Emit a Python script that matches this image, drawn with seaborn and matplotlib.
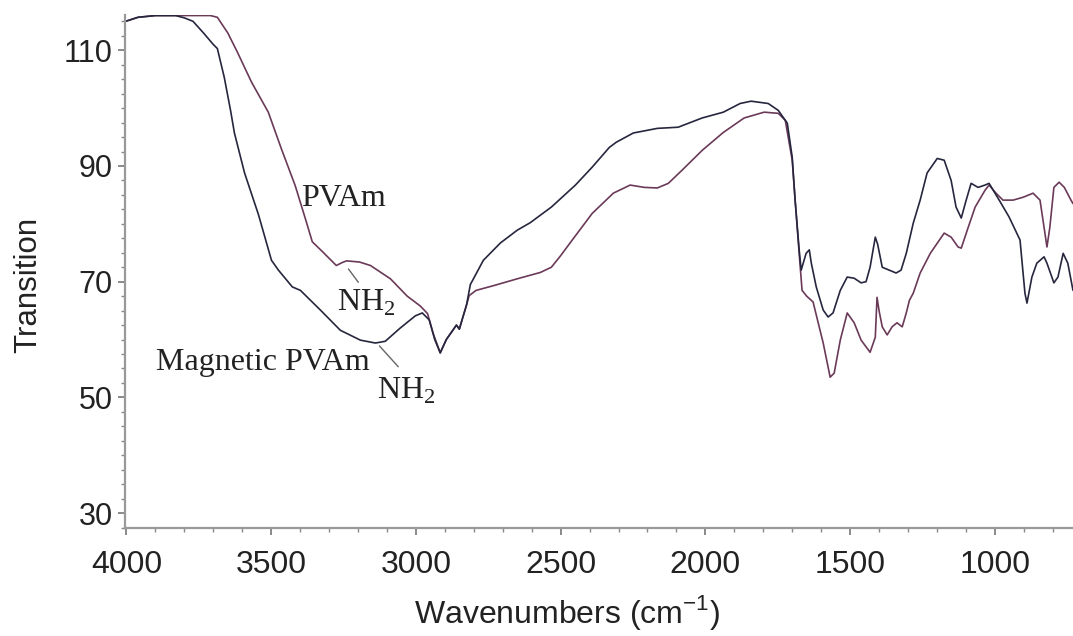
import numpy as np
import pandas as pd
import matplotlib
matplotlib.use('Agg')
import matplotlib.pyplot as plt
import seaborn as sns
from matplotlib.ticker import MultipleLocator

# Spectra (wavenumber in cm-1, transition in %)
wn_mag = [4003, 3960, 3900, 3830, 3800, 3770, 3734, 3700, 3686, 3662, 3640, 3627,
          3592, 3544, 3499, 3475, 3427, 3399, 3330, 3261, 3192, 3140, 3106, 3054,
          3002, 2978, 2954, 2935, 2916, 2895, 2874, 2860, 2850, 2840, 2825, 2812,
          2767, 2708, 2650, 2605, 2570, 2532, 2449, 2391, 2332, 2308, 2249, 2166,
          2094, 2011, 1938, 1880, 1842, 1783, 1748, 1717, 1700, 1690, 1676, 1669,
          1652, 1641, 1634, 1617, 1593, 1576, 1559, 1534, 1510, 1486, 1462, 1445,
          1431, 1413, 1405, 1389, 1365, 1341, 1324, 1306, 1282, 1258, 1234, 1199,
          1175, 1151, 1134, 1116, 1099, 1082, 1058, 1034, 1020, 985, 951, 913,
          896, 889, 872, 855, 830, 820, 796, 782, 764, 748, 730]
t_mag = [115.0, 115.7, 116.0, 116.0, 115.6, 115.0, 113.0, 111.0, 110.3, 105.3, 99.5, 95.7,
         88.8, 81.6, 73.7, 72.0, 69.1, 68.5, 65.1, 61.6, 59.9, 59.4, 59.7, 62.0,
         64.1, 64.6, 63.4, 60.0, 57.7, 60.0, 61.5, 62.5, 61.8, 63.5, 66.0, 69.5,
         73.7, 76.7, 78.9, 80.2, 81.5, 82.9, 86.7, 89.8, 93.2, 94.1, 95.7, 96.5,
         96.7, 98.3, 99.3, 100.8, 101.2, 100.8, 99.6, 97.4, 91.5, 84.1, 75.5, 72.0,
         74.9, 75.5, 73.2, 69.1, 65.1, 63.9, 64.6, 68.5, 70.8, 70.6, 69.8, 70.0,
         72.5, 77.7, 76.5, 72.5, 72.0, 71.5, 72.0, 74.9, 80.1, 84.1, 88.8, 91.3,
         91.0, 87.5, 82.9, 81.0, 84.1, 87.0, 86.3, 86.7, 87.0, 84.1, 81.2, 77.2,
         68.0, 66.3, 70.8, 73.2, 74.3, 73.2, 69.8, 70.8, 74.9, 73.2, 68.5]

wn_pvam = [4003, 3960, 3900, 3800, 3710, 3686, 3650, 3617, 3568, 3510, 3465, 3417,
           3382, 3358, 3323, 3275, 3255, 3240, 3195, 3157, 3088, 3030, 2985, 2960,
           2940, 2916, 2895, 2874, 2860, 2850, 2840, 2825, 2816, 2792, 2733, 2650,
           2570, 2532, 2500, 2460, 2391, 2318, 2260, 2211, 2166, 2128, 2080, 2011,
           1938, 1866, 1797, 1748, 1724, 1700, 1690, 1676, 1666, 1650, 1628, 1593,
           1569, 1555, 1534, 1510, 1486, 1462, 1431, 1413, 1407, 1400, 1389, 1372,
           1355, 1338, 1320, 1306, 1295, 1282, 1258, 1223, 1175, 1151, 1127, 1116,
           1092, 1068, 1034, 1020, 996, 972, 937, 902, 868, 844, 830, 820,
           810, 796, 778, 760, 737, 730]
t_pvam = [115.0, 115.7, 116.0, 116.0, 116.0, 115.7, 113.0, 109.7, 104.5, 99.3, 93.0, 86.6,
          80.9, 76.9, 75.2, 72.8, 73.3, 73.6, 73.4, 72.8, 70.5, 67.5, 65.8, 64.5,
          61.0, 57.7, 60.0, 61.5, 62.5, 61.8, 63.5, 66.0, 67.6, 68.5, 69.3, 70.5,
          71.6, 72.5, 74.5, 77.2, 81.8, 85.3, 86.7, 86.3, 86.2, 87.0, 89.3, 92.7,
          95.8, 98.3, 99.3, 99.1, 97.9, 91.0, 84.1, 74.9, 68.5, 67.5, 66.5, 59.4,
          53.5, 54.2, 59.9, 64.6, 62.9, 59.9, 57.8, 60.4, 67.3, 65.0, 62.2, 60.8,
          62.2, 62.9, 62.2, 64.6, 66.8, 68.0, 71.5, 74.9, 78.4, 77.7, 76.0, 75.8,
          79.4, 82.9, 85.8, 86.7, 85.3, 84.1, 84.1, 84.6, 85.3, 84.1, 79.4, 76.0,
          79.4, 86.3, 87.2, 86.3, 84.1, 83.5]

df_mag = pd.DataFrame({'wn': wn_mag, 't': t_mag})
df_pvam = pd.DataFrame({'wn': wn_pvam, 't': t_pvam})

sns.set_style('white')
plt.rcParams['font.family'] = ['Liberation Sans', 'DejaVu Sans']

fig = plt.figure(figsize=(10.73, 6.36), dpi=100)
ax = fig.add_axes([0.1165, 0.170, 0.8835, 0.806])

sns.lineplot(data=df_pvam, x='wn', y='t', ax=ax, color='#6a3a58', linewidth=1.2,
             estimator=None, sort=False)
sns.lineplot(data=df_mag, x='wn', y='t', ax=ax, color='#26263f', linewidth=1.2,
             estimator=None, sort=False)

ax.set_xlim(4005, 730)
ax.set_ylim(27.45, 116.05)

# ticks
ax.xaxis.set_major_locator(MultipleLocator(500))
ax.xaxis.set_minor_locator(MultipleLocator(100))
ax.yaxis.set_minor_locator(MultipleLocator(2.5))
ax.set_yticks([30, 50, 70, 90, 110])
ax.tick_params(axis='both', which='major', direction='out', length=5, width=1.2,
               color='#777777', labelcolor='#222222')
ax.tick_params(axis='both', which='minor', direction='out', length=3, width=1.0,
               color='#888888')
ax.tick_params(axis='x', which='both', bottom=True, labelsize=23, pad=11)
ax.tick_params(axis='y', which='both', left=True, labelsize=22, pad=4)

# spines
ax.spines[['top', 'right']].set_visible(False)
for s in ['left', 'bottom']:
    ax.spines[s].set_color('#999999')
    ax.spines[s].set_linewidth(1.6)

ax.set_xlabel('Wavenumbers (cm$^{\\mathregular{-1}}$)', fontsize=23, color='#222222')
ax.set_ylabel('Transition', fontsize=22.5, color='#222222')
ax.xaxis.set_label_coords(0.466, -0.128)
ax.yaxis.set_label_coords(-0.086, 0.474)

# annotations in serif
serif = ['Liberation Serif', 'DejaVu Serif']
ax.text(3398, 84.3, 'PVAm', family=serif, fontsize=23, color='#222222', ha='left', va='center')
ax.text(3272, 66.4, 'NH$_{\\mathregular{2}}$', family=serif, fontsize=23, color='#222222',
        ha='left', va='center')
ax.text(3897, 56.1, 'Magnetic PVAm', family=serif, fontsize=23, color='#222222',
        ha='left', va='center')
ax.text(3136, 51.2, 'NH$_{\\mathregular{2}}$', family=serif, fontsize=23, color='#222222',
        ha='left', va='center')

# leader lines
ax.plot([3233, 3199], [72.2, 69.9], color='#666666', linewidth=1.0)
ax.plot([3126, 3061], [58.9, 55.3], color='#666666', linewidth=1.0)

plt.savefig('out.png', dpi=100, facecolor='white')
